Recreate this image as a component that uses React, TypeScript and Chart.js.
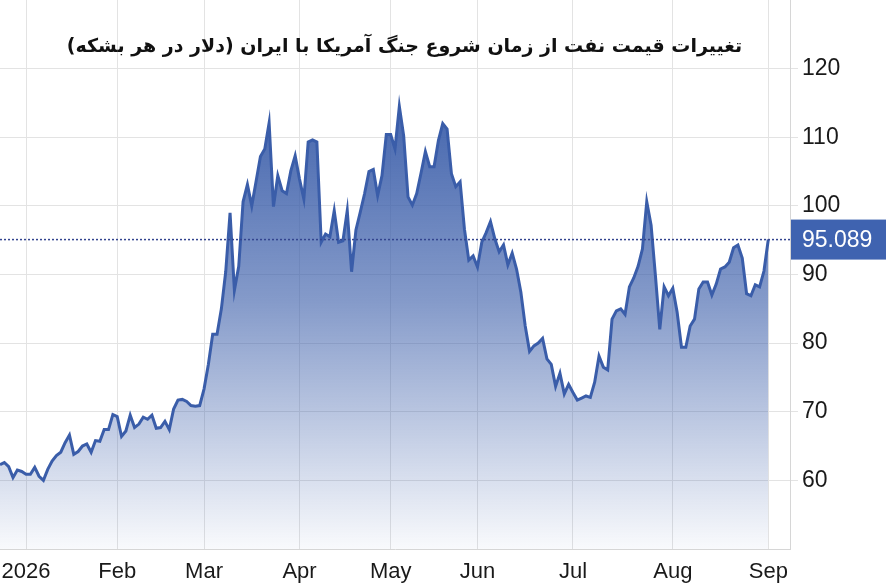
import React, { useEffect, useRef } from 'react';
import { Chart, registerables } from 'chart.js';
Chart.register(...registerables);

const chartTitle = 'تغییرات قیمت نفت از زمان شروع جنگ آمریکا با ایران (دلار در هر بشکه)';

// daily close, late Dec 2025 to early Sep 2026 (USD per barrel)
const prices = [
  62.3, 62.6, 62.0, 60.4, 61.5, 61.3, 60.9, 60.9, 61.9, 60.6,
  60.0, 61.6, 62.8, 63.6, 64.1, 65.5, 66.6, 63.8, 64.2, 65.0,
  65.3, 64.1, 65.8, 65.7, 67.4, 67.4, 69.6, 69.3, 66.4, 67.2,
  69.5, 67.7, 68.2, 69.2, 68.9, 69.5, 67.6, 67.7, 68.6, 67.4,
  70.4, 71.7, 71.8, 71.5, 70.9, 70.8, 70.9, 73.3, 76.9, 81.3,
  81.3, 85.0, 90.4, 99.0, 87.7, 91.2, 100.6, 103.1, 100.0, 103.6,
  107.2, 108.3, 112.1, 99.9, 104.4, 102.2, 101.8, 105.1, 107.3, 103.9,
  101.0, 109.3, 109.6, 109.3, 94.7, 95.9, 95.5, 99.3, 94.7, 94.9,
  99.3, 90.4, 96.5, 99.1, 101.8, 105.0, 105.3, 101.5, 104.4, 110.4,
  110.4, 108.3, 114.5, 110.2, 101.3, 100.1, 101.8, 104.8, 107.9, 105.7,
  105.7, 109.5, 112.0, 111.2, 104.7, 102.8, 103.5, 96.6, 92.1, 92.7,
  91.1, 94.7, 96.1, 97.7, 95.2, 93.3, 94.3, 91.4, 93.1, 90.8,
  87.4, 82.5, 78.8, 79.6, 80.0, 80.7, 77.7, 76.9, 73.7, 75.6,
  72.6, 74.0, 72.8, 71.7, 72.0, 72.3, 72.1, 74.3, 78.1, 76.5,
  76.1, 83.5, 84.7, 85.0, 84.2, 88.2, 89.5, 91.2, 93.7, 100.6,
  97.2, 89.8, 82.0, 88.2, 86.9, 88.0, 84.5, 79.4, 79.4, 82.5,
  83.5, 87.9, 88.9, 88.9, 87.0, 88.6, 90.8, 91.1, 91.8, 93.9,
  94.3, 92.4, 87.2, 86.9, 88.5, 88.2, 90.5, 95.089,
];

// month labels and the trading-day index where each month begins
const monthNames = ['2026', 'Feb', 'Mar', 'Apr', 'May', 'Jun', 'Jul', 'Aug', 'Sep'];
const monthStarts = [6, 27, 47, 69, 90, 110, 132, 155, 177];
// empty trading days shown after the last close
const emptyDaysAfter = 5;
const yTicks = [60, 70, 80, 90, 100, 110, 120];

const labels = Array.from({ length: prices.length + emptyDaysAfter }, (_, i) => {
  const k = monthStarts.indexOf(i);
  return k >= 0 ? monthNames[k] : '';
});
const lastPrice = prices[prices.length - 1];

const LINE = '#3a5da9';
const GRID = '#e3e3e3';
const FONT = '"Liberation Sans", Arial, sans-serif';

const overlay = {
  id: 'overlay',
  afterDatasetsDraw(chart) {
    const { ctx, chartArea, scales } = chart;
    const y = scales.y.getPixelForValue(lastPrice);
    ctx.save();
    ctx.strokeStyle = '#33448f';
    ctx.lineWidth = 1.5;
    ctx.setLineDash([2, 2]);
    ctx.beginPath();
    ctx.moveTo(chartArea.left, y);
    ctx.lineTo(chartArea.right, y);
    ctx.stroke();
    ctx.restore();
  },
  afterDraw(chart) {
    const { ctx, chartArea, scales, width } = chart;
    const y = scales.y.getPixelForValue(lastPrice);
    ctx.save();
    // last value badge
    ctx.fillStyle = '#3f63b0';
    ctx.fillRect(chartArea.right + 1, y - 20, width - chartArea.right - 1, 40);
    ctx.fillStyle = '#ffffff';
    ctx.font = '23px ' + FONT;
    ctx.textAlign = 'left';
    ctx.textBaseline = 'middle';
    ctx.fillText(String(lastPrice), chartArea.right + 12, y + 1);
    // title
    ctx.fillStyle = '#111111';
    ctx.font = 'bold 19px "DejaVu Sans"';
    ctx.direction = 'rtl';
    ctx.textAlign = 'center';
    ctx.textBaseline = 'alphabetic';
    ctx.fillText(chartTitle, chartArea.left + (chartArea.right - chartArea.left) * 0.512, 52);
    ctx.restore();
  },
};

const App = () => {
  const canvasRef = useRef(null);
  const chartRef = useRef(null);

  useEffect(() => {
    if (!canvasRef.current) return;
    if (chartRef.current) chartRef.current.destroy();

    chartRef.current = new Chart(canvasRef.current, {
      type: 'line',
      data: {
        labels,
        datasets: [
          {
            data: prices,
            borderColor: LINE,
            borderWidth: 3,
            pointRadius: 0,
            tension: 0,
            fill: 'start',
            backgroundColor: (c) => {
              const area = c.chart.chartArea;
              if (!area) return 'rgba(58,93,169,0.4)';
              const g = c.chart.ctx.createLinearGradient(0, area.top, 0, area.bottom);
              g.addColorStop(0.15, 'rgba(58,93,169,0.98)');
              g.addColorStop(0.55, 'rgba(58,93,169,0.62)');
              g.addColorStop(1, 'rgba(58,93,169,0.03)');
              return g;
            },
          },
        ],
      },
      options: {
        animation: false,
        responsive: true,
        maintainAspectRatio: false,
        layout: { padding: 0 },
        plugins: {
          legend: { display: false },
          tooltip: { enabled: false },
        },
        scales: {
          x: {
            type: 'category',
            grid: { color: GRID, drawTicks: false },
            border: { display: true, color: '#d6d6d6' },
            ticks: {
              autoSkip: false,
              maxRotation: 0,
              padding: 10,
              color: '#1a1a1a',
              font: { family: FONT, size: 22 },
              callback: (v, i) => labels[i] || null,
            },
            afterFit: (s) => {
              s.height = 34;
              s.paddingLeft = 0;
              s.paddingRight = 0;
            },
          },
          y: {
            position: 'right',
            min: 50,
            max: 130,
            grid: { color: GRID, tickLength: 8 },
            border: { display: true, color: '#d6d6d6' },
            ticks: {
              stepSize: 10,
              padding: 4,
              color: '#1a1a1a',
              font: { family: FONT, size: 23 },
              callback: (v) => (yTicks.includes(v) ? String(v) : null),
            },
            afterFit: (s) => {
              s.width = 96;
              s.paddingTop = 0;
              s.paddingBottom = 0;
            },
          },
        },
      },
      plugins: [overlay],
    });

    return () => {
      if (chartRef.current) {
        chartRef.current.destroy();
        chartRef.current = null;
      }
    };
  }, []);

  return (
    <div style={{ position: 'fixed', left: 0, top: 0, width: 886, height: 583, background: '#fff' }}>
      <canvas ref={canvasRef} />
    </div>
  );
};

export default App;
